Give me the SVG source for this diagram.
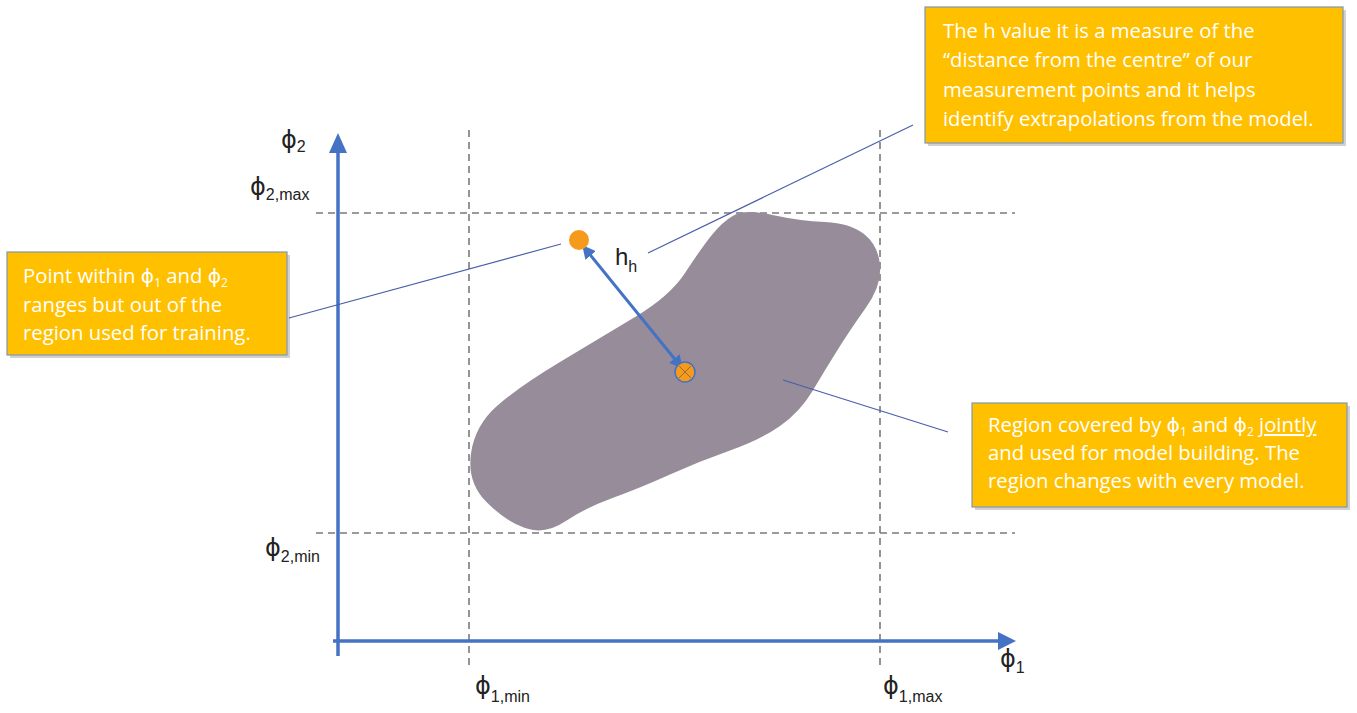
<svg xmlns="http://www.w3.org/2000/svg" width="1357" height="713" viewBox="0 0 1357 713">
  <defs>
    <style>
      .dash { stroke: #7a7a7a; stroke-width: 1.6; stroke-dasharray: 7 5; fill: none; }
      .axis { stroke: #4472C4; stroke-width: 3.5; fill: none; }
      .call { stroke: #4A5FA8; stroke-width: 1.2; fill: none; }
      .box { fill: #FFC000; stroke: #8497B0; stroke-width: 1.2; }
      .shadow { fill: #000; opacity: 0.18; }
      .bt { font-family: "Open Sans", "Liberation Sans", sans-serif; font-size: 20.3px; fill: #ffffff; }
      .lab { font-family: "Liberation Sans", "DejaVu Sans", sans-serif; font-size: 24px; fill: #222222; }
      .phi { font-family: "DejaVu Sans", sans-serif; }
      .sub { font-size: 16px; }
    </style>
    <marker id="ah" viewBox="0 0 10 10" refX="9" refY="5" markerWidth="4.5" markerHeight="4.5" orient="auto-start-reverse">
      <path d="M0,0 L10,5 L0,10 z" fill="#4472C4"/>
    </marker>
  </defs>
  <rect width="1357" height="713" fill="#ffffff"/>

  <g id="grid">
    <line class="dash" x1="469" y1="130" x2="469" y2="668"/>
    <line class="dash" x1="880" y1="130" x2="880" y2="668"/>
    <line class="dash" x1="316" y1="213" x2="1015" y2="213"/>
    <line class="dash" x1="316" y1="533" x2="1015" y2="533"/>
  </g>

  <g id="region">
    <path d="M733.5,215.5 Q745,209 772.5,215 Q800,221 825,222 Q850,223 864,234 Q878,245 880,265 Q882,285 866,307.5 Q850,330 837.5,350 Q825,370 812.5,391 Q800,412 780,426 Q760,440 730,450.5 Q700,461 670,474.5 Q640,488 612.5,498 Q585,508 565,521.5 Q545,535 525,528 Q505,521 486,501.5 Q467,482 471,453.5 Q475,425 497.5,405.5 Q520,386 560,362 Q600,338 635,317 Q670,296 685,273 Q700,250 711,236 Q722,222 733.5,215.5 Z" fill="#978C99"/>
  </g>

  <g id="axes">
    <line class="axis" x1="338" y1="656" x2="338" y2="150"/>
    <polygon points="338,133 329,153 347,153" fill="#4472C4"/>
    <line class="axis" x1="333" y1="641" x2="1000" y2="641"/>
    <polygon points="1016,641 998,632 998,650" fill="#4472C4"/>
  </g>

  <g id="connectors">
    <line class="call" x1="289" y1="318" x2="561" y2="244"/>
    <line class="call" x1="648" y1="253" x2="913" y2="125"/>
    <line class="call" x1="783" y1="380" x2="948" y2="432"/>
    <line x1="583" y1="246" x2="682" y2="368" stroke="#4472C4" stroke-width="3" marker-start="url(#ah)" marker-end="url(#ah)"/>
  </g>

  <g id="outlier-point">
    <circle cx="579" cy="240" r="10" fill="#F59A1B"/>
  </g>

  <g id="centre-point">
    <circle cx="685" cy="372" r="10" fill="#F59A1B" stroke="#4472C4" stroke-width="1.5"/>
    <line x1="679" y1="366" x2="691" y2="378" stroke="#9a6a3a" stroke-width="1"/>
    <line x1="691" y1="366" x2="679" y2="378" stroke="#9a6a3a" stroke-width="1"/>
  </g>

  <g id="h-label">
    <text class="lab" x="615" y="265">h<tspan class="sub" dy="7">h</tspan></text>
  </g>

  <g id="axis-labels">
    <text class="lab" x="281" y="148"><tspan class="phi">ϕ</tspan><tspan class="sub" dy="4">2</tspan></text>
    <text class="lab" x="250" y="195"><tspan class="phi">ϕ</tspan><tspan class="sub" dy="5">2,max</tspan></text>
    <text class="lab" x="265" y="556"><tspan class="phi">ϕ</tspan><tspan class="sub" dy="6">2,min</tspan></text>
    <text class="lab" x="475" y="694"><tspan class="phi">ϕ</tspan><tspan class="sub" dy="8">1,min</tspan></text>
    <text class="lab" x="883" y="694"><tspan class="phi">ϕ</tspan><tspan class="sub" dy="8">1,max</tspan></text>
    <text class="lab" x="1000" y="667"><tspan class="phi">ϕ</tspan><tspan class="sub" dy="6">1</tspan></text>
  </g>

  <g id="note-h">
    <rect class="shadow" x="928" y="10" width="418" height="136"/>
    <rect class="box" x="925" y="7" width="418" height="136"/>
    <text class="bt" x="943" y="38">The h value it is a measure of the</text>
    <text class="bt" x="943" y="67">“distance from the centre” of our</text>
    <text class="bt" x="943" y="97">measurement points and it helps</text>
    <text class="bt" x="943" y="126">identify extrapolations from the model.</text>
  </g>

  <g id="note-point">
    <rect class="shadow" x="10" y="255" width="280" height="103"/>
    <rect class="box" x="7" y="252" width="280" height="103"/>
    <text class="bt" x="23" y="283">Point within <tspan class="phi">ϕ</tspan><tspan font-size="12" dy="4">1</tspan><tspan dy="-4"> and </tspan><tspan class="phi">ϕ</tspan><tspan font-size="12" dy="4">2</tspan></text>
    <text class="bt" x="23" y="312">ranges but out of the</text>
    <text class="bt" x="23" y="340">region used for training.</text>
  </g>

  <g id="note-region">
    <rect class="shadow" x="975" y="406" width="375" height="104"/>
    <rect class="box" x="972" y="403" width="375" height="104"/>
    <text class="bt" x="988" y="432">Region covered by <tspan class="phi">ϕ</tspan><tspan font-size="12" dy="4">1</tspan><tspan dy="-4"> and </tspan><tspan class="phi">ϕ</tspan><tspan font-size="12" dy="4">2</tspan><tspan dy="-4"> </tspan><tspan text-decoration="underline">jointly</tspan></text>
    <text class="bt" x="988" y="460">and used for model building. The</text>
    <text class="bt" x="988" y="488">region changes with every model.</text>
  </g>
</svg>
